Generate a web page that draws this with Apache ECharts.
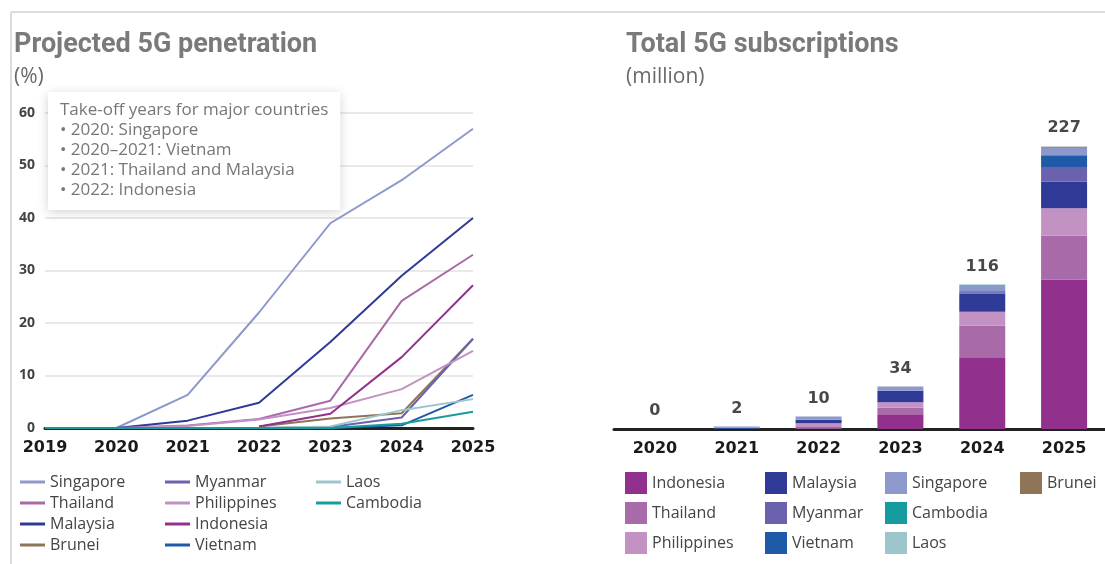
<!DOCTYPE html>
<html>
<head>
<meta charset="utf-8">
<script src="https://cdn.jsdelivr.net/npm/echarts@6/dist/echarts.min.js"></script>
<style>
  html, body { margin: 0; padding: 0; background: #fff; }
  #main { width: 1105px; height: 564px; }
</style>
</head>
<body>
<div id="main"></div>
<script>
// penetration (%) per year
var years = ['2019', '2020', '2021', '2022', '2023', '2024', '2025'];
var singapore = [0, 0, 6.3, 22, 39, 47.2, 57];
var thailand = [0, 0, 0.5, 1.7, 5.2, 24.2, 33];
var malaysia = [0, 0, 1.4, 4.8, 16.4, 29, 40];
var brunei = ['-', '-', '-', 0.3, 1.8, 2.8, 17];
var myanmar = [0, 0, 0, 0, 0.2, 2, 17];
var philippines = [0, 0, 0.4, 1.6, 3.8, 7.4, 14.7];
var indonesia = ['-', '-', '-', 0.3, 2.7, 13.5, 27.2];
var vietnam = [0, 0, 0, 0, 0, 0.5, 6.3];
var laos = [0, 0, 0, 0, 0.3, 3.4, 5.5];
var cambodia = [0, 0, 0, 0, 0, 0.8, 3.1];
var yTicks = [0, 10, 20, 30, 40, 50, 60];

// subscriptions (million) per year
var subYears = ['2020', '2021', '2022', '2023', '2024', '2025'];
var subIndonesia = [0, 0, 0.3, 11.8, 57, 120];
var subThailand = [0, 0.2, 2.0, 5.3, 26, 35.3];
var subPhilippines = [0, 0, 2.4, 4.4, 11, 21.7];
var subMalaysia = [0, 0.1, 2.8, 9.2, 14.5, 21.4];
var subMyanmar = [0, 0, 0, 0, 1.2, 11.8];
var subVietnam = [0, 0.8, 0, 0, 0.8, 9.4];
var subSingapore = [0, 0.9, 2.5, 3.3, 5, 6.1];
var subCambodia = [0, 0, 0, 0, 0.3, 0.5];
var subLaos = [0, 0, 0, 0, 0.2, 0.3];
var subBrunei = [0, 0, 0, 0, 0, 0.1];
var subTotals = [0, 2, 10, 34, 116, 227];

var colors = {
  Singapore: '#8d98cc', Thailand: '#a96aa9', Malaysia: '#2f3a96', Brunei: '#8e7558',
  Myanmar: '#6a62ad', Philippines: '#c292c2', Indonesia: '#92308e', Vietnam: '#1f5aa8',
  Laos: '#9cc6cb', Cambodia: '#169c9e'
};

var chart = echarts.init(document.getElementById('main'), null, { renderer: 'canvas' });

function lineSeries(name, data) {
  return {
    name: name, type: 'line', xAxisIndex: 0, yAxisIndex: 0,
    data: data, symbol: 'none', smooth: false,
    lineStyle: { width: 2, color: colors[name] },
    itemStyle: { color: colors[name] }
  };
}
function barSeries(name, data) {
  return {
    name: name, type: 'bar', stack: 'subs', xAxisIndex: 1, yAxisIndex: 1,
    data: data, barWidth: 46,
    itemStyle: { color: colors[name] }
  };
}

var titleFont = "'Liberation Sans Narrow', 'Roboto', sans-serif";
var textFont = "'Open Sans', 'Noto Sans', sans-serif";
var legendText = { color: '#444', fontSize: 16, fontFamily: textFont };

var option = {
  animation: false,
  backgroundColor: '#fff',
  graphic: [
    { type: 'line', shape: { x1: 11, y1: 12, x2: 1105, y2: 12 }, style: { stroke: '#dcdcdc', lineWidth: 2 } },
    { type: 'line', shape: { x1: 11, y1: 12, x2: 11, y2: 564 }, style: { stroke: '#dcdcdc', lineWidth: 2 } }
  ],
  title: [
    { text: 'Projected 5G penetration', left: 9, top: 27,
      textStyle: { fontFamily: titleFont, fontWeight: 'bold', fontSize: 27, color: '#7a7a7a' } },
    { text: '(%)', left: 9, top: 62,
      textStyle: { fontFamily: textFont, fontWeight: 'normal', fontSize: 21, color: '#6a6a6a' } },
    { text: 'Total 5G subscriptions', left: 621, top: 27,
      textStyle: { fontFamily: titleFont, fontWeight: 'bold', fontSize: 27, color: '#7a7a7a' } },
    { text: '(million)', left: 621, top: 62,
      textStyle: { fontFamily: textFont, fontWeight: 'normal', fontSize: 21, color: '#6a6a6a' } },
    { text: 'Take-off years for major countries\n• 2020: Singapore\n• 2020–2021: Vietnam\n• 2021: Thailand and Malaysia\n• 2022: Indonesia',
      left: 48, top: 92, padding: [8, 12, 10, 12],
      backgroundColor: '#fff', shadowBlur: 10, shadowColor: 'rgba(0,0,0,0.18)', shadowOffsetY: 2,
      textStyle: { fontFamily: textFont, fontWeight: 'normal', fontSize: 17, lineHeight: 20, color: '#777' } }
  ],
  legend: [
    { orient: 'vertical', left: 20, top: 474, padding: 0, itemWidth: 25, itemHeight: 3, itemGap: 5, icon: 'rect',
      data: ['Singapore', 'Thailand', 'Malaysia', 'Brunei'], textStyle: legendText },
    { orient: 'vertical', left: 165, top: 474, padding: 0, itemWidth: 25, itemHeight: 3, itemGap: 5, icon: 'rect',
      data: ['Myanmar', 'Philippines', 'Indonesia', 'Vietnam'], textStyle: legendText },
    { orient: 'vertical', left: 316, top: 474, padding: 0, itemWidth: 25, itemHeight: 3, itemGap: 5, icon: 'rect',
      data: ['Laos', 'Cambodia'], textStyle: legendText },
    { orient: 'vertical', left: 625, top: 472, padding: 0, itemWidth: 22, itemHeight: 22, itemGap: 8, icon: 'rect',
      data: ['Indonesia', 'Thailand', 'Philippines'], textStyle: legendText },
    { orient: 'vertical', left: 765, top: 472, padding: 0, itemWidth: 22, itemHeight: 22, itemGap: 8, icon: 'rect',
      data: ['Malaysia', 'Myanmar', 'Vietnam'], textStyle: legendText },
    { orient: 'vertical', left: 885, top: 472, padding: 0, itemWidth: 22, itemHeight: 22, itemGap: 8, icon: 'rect',
      data: ['Singapore', 'Cambodia', 'Laos'], textStyle: legendText },
    { orient: 'vertical', left: 1020, top: 472, padding: 0, itemWidth: 22, itemHeight: 22, itemGap: 8, icon: 'rect',
      data: ['Brunei'], textStyle: legendText }
  ],
  grid: [
    { left: 45, right: 632, top: 113, bottom: 136 },
    { left: 614, right: -13, top: 55, bottom: 135 }
  ],
  xAxis: [
    { type: 'category', gridIndex: 0, data: years, boundaryGap: false,
      axisLine: { lineStyle: { color: '#222', width: 3 } }, axisTick: { show: false },
      axisLabel: { color: '#1a1a1a', fontWeight: 'bold', fontSize: 16, fontFamily: "'DejaVu Sans', sans-serif", margin: 12 } },
    { type: 'category', gridIndex: 1, data: subYears,
      axisLine: { lineStyle: { color: '#222', width: 3 } }, axisTick: { show: false },
      axisLabel: { color: '#1a1a1a', fontWeight: 'bold', fontSize: 16, fontFamily: "'DejaVu Sans', sans-serif", margin: 12 } }
  ],
  yAxis: [
    { type: 'value', gridIndex: 0, min: yTicks[0], max: yTicks[yTicks.length - 1], interval: 10,
      axisLine: { show: false }, axisTick: { show: false },
      splitLine: { lineStyle: { color: '#e2e2e2', width: 1.5 } },
      axisLabel: { color: '#444', fontSize: 14, fontWeight: 'bold', fontFamily: textFont, margin: 10 } },
    { type: 'value', gridIndex: 1, min: 0, max: 300, show: false, splitLine: { show: false } }
  ],
  series: [
    lineSeries('Singapore', singapore),
    lineSeries('Thailand', thailand),
    lineSeries('Malaysia', malaysia),
    lineSeries('Brunei', brunei),
    lineSeries('Myanmar', myanmar),
    lineSeries('Philippines', philippines),
    lineSeries('Indonesia', indonesia),
    lineSeries('Vietnam', vietnam),
    lineSeries('Laos', laos),
    lineSeries('Cambodia', cambodia),
    barSeries('Indonesia', subIndonesia),
    barSeries('Thailand', subThailand),
    barSeries('Philippines', subPhilippines),
    barSeries('Malaysia', subMalaysia),
    barSeries('Myanmar', subMyanmar),
    barSeries('Vietnam', subVietnam),
    barSeries('Singapore', subSingapore),
    barSeries('Cambodia', subCambodia),
    barSeries('Laos', subLaos),
    barSeries('Brunei', subBrunei),
    {
      name: 'total', type: 'scatter', xAxisIndex: 1, yAxisIndex: 1,
      data: subTotals, symbolSize: 0, silent: true,
      label: { show: true, position: 'top', distance: 10, color: '#1a1a1a', fontWeight: 'bold',
        fontSize: 16, fontFamily: "'DejaVu Sans', sans-serif" }
    }
  ]
};

chart.setOption(option);
</script>
</body>
</html>
